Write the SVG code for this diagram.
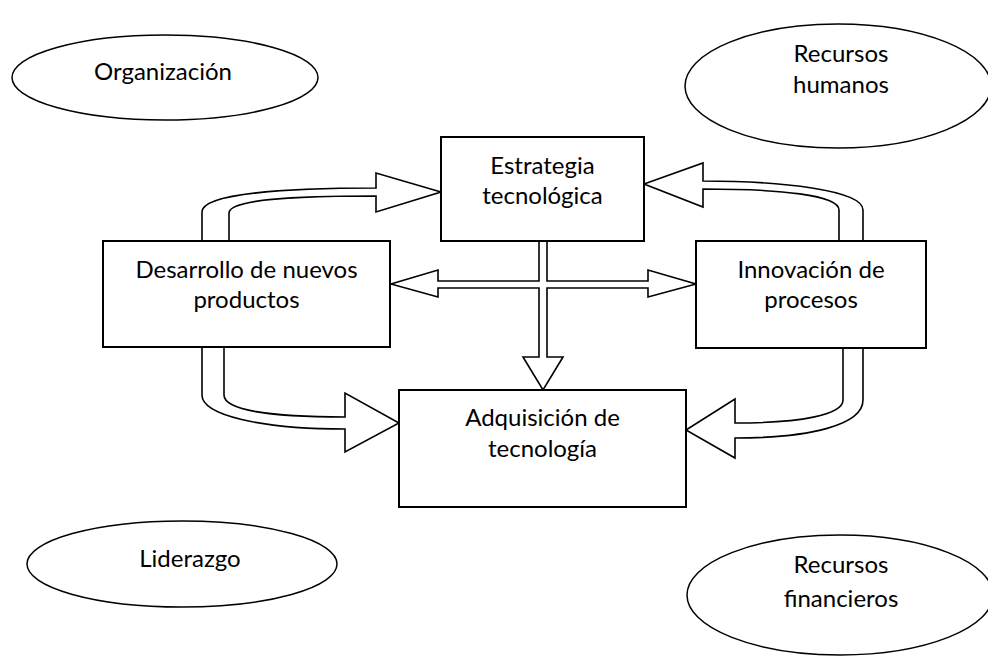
<svg xmlns="http://www.w3.org/2000/svg" width="988" height="656" viewBox="0 0 988 656">
<style>
.box{fill:#fff;stroke:#000;stroke-width:2}
.ell{fill:#fff;stroke:#000;stroke-width:1.5}
.arr{fill:#fff;stroke:#000;stroke-width:1.6;stroke-linejoin:miter}
text{font-family:Lato,"Open Sans","Liberation Sans",sans-serif;font-size:24px;fill:#000;text-anchor:middle}
</style>
<rect width="988" height="656" fill="#fff"/>
<g id="organizacion"><ellipse class="ell" cx="165" cy="77.5" rx="153" ry="42.5"/><text x="163" y="80">Organización</text></g>
<g id="recursos-humanos"><ellipse class="ell" cx="838" cy="86" rx="153" ry="62"/><text x="841" y="62">Recursos</text><text x="841" y="93">humanos</text></g>
<g id="liderazgo"><ellipse class="ell" cx="182" cy="564" rx="155" ry="43"/><text x="190" y="567">Liderazgo</text></g>
<g id="recursos-financieros"><ellipse class="ell" cx="840" cy="595" rx="153" ry="60"/><text x="841" y="573">Recursos</text><text x="841" y="607">financieros</text></g>
<g id="connectors">
<path class="arr" d="M202,241 V212 C202,193 290,188 376,188 V173 L441,192 L376,212 V196 C295,196 229,199 229,213 V241"/>
<path class="arr" d="M863,241 V210 C863,190 780,181 703,181 V163 L644,184 L703,207 V189 C780,189 839,195 839,210 V241"/>
<path class="arr" d="M202,347 V395 C202,415 260,429 345,429 V452 L399,423 L345,393 V417 C270,417 224,410 224,395 V347"/>
<path class="arr" d="M843,348 V400 C843,415 800,423 735,423 V399 L686,430 L735,458 V438 C810,438 863,425 863,400 V348"/>
<path class="arr" d="M539,241 V281 H438 V270 L391,284 L438,297 V288 H539 V357 H523 L543,390 L563,357 H547 V288 H648 V297 L696,284 L648,270 V281 H547 V241"/>
</g>
<g id="estrategia"><rect class="box" x="441" y="137" width="203" height="104"/><text x="542.5" y="174">Estrategia</text><text x="542.5" y="204">tecnológica</text></g>
<g id="desarrollo"><rect class="box" x="103" y="241" width="287" height="106"/><text x="246.5" y="278">Desarrollo de nuevos</text><text x="246.5" y="308">productos</text></g>
<g id="innovacion"><rect class="box" x="696" y="241" width="230" height="107"/><text x="811" y="278">Innovación de</text><text x="811" y="308">procesos</text></g>
<g id="adquisicion"><rect class="box" x="399" y="390" width="287" height="117"/><text x="542.5" y="426">Adquisición de</text><text x="542.5" y="457">tecnología</text></g>
</svg>
